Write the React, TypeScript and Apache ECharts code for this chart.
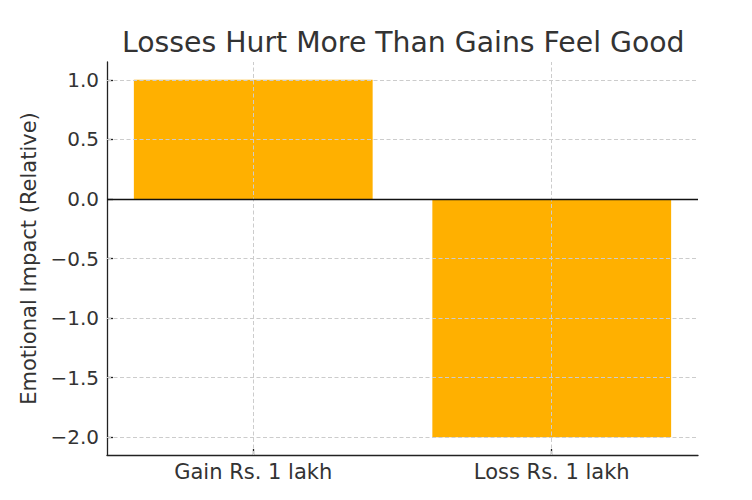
import React, { useEffect, useRef } from "react";
import * as echarts from "echarts";

const titleText = "Losses Hurt More Than Gains Feel Good";
const yAxisTitle = "Emotional Impact (Relative)";
const categories = ["Gain Rs. 1 lakh", "Loss Rs. 1 lakh"];
const impactValues = [1, -2];
const yTicks = [-2.0, -1.5, -1.0, -0.5, 0.0, 0.5, 1.0];
const xTicks = [0, 1];

const W = 752;
const H = 500;
const GRID = { left: 107, right: 54, top: 62, bottom: 45 };
const X_MIN = -0.49;
const X_MAX = 1.49;
const Y_MIN = -2.15;
const Y_MAX = 1.15;
const FONT = "DejaVu Sans";
const TEXT = "#333333";
const GRID_COLOR = "#cccccc";

const fmtY = (v: number) => (v < 0 ? "\u2212" : "") + Math.abs(v).toFixed(1);

export default function App() {
  const ref = useRef<HTMLDivElement>(null);
  useEffect(() => {
    if (!ref.current) return;
    const chart = echarts.init(ref.current, undefined, { renderer: "svg" });
    const plotW = W - GRID.left - GRID.right;
    const barW = (plotW / (X_MAX - X_MIN)) * 0.8;
    const gridLineStyle = { color: GRID_COLOR, type: [4, 2.5] as any, width: 1 };
    const spine = { color: "#222", width: 1.3 };
    chart.setOption({
      animation: false,
      backgroundColor: "#ffffff",
      textStyle: { fontFamily: FONT },
      title: {
        text: titleText,
        left: 117,
        top: 23,
        textStyle: { fontFamily: FONT, fontSize: 28.3, fontWeight: "normal", color: TEXT },
      },
      grid: { ...GRID, containLabel: false },
      xAxis: {
        type: "value",
        min: X_MIN,
        max: X_MAX,
        axisLine: { show: true, onZero: false, lineStyle: spine },
        axisTick: {
          show: true,
          inside: true,
          length: 6,
          customValues: xTicks,
          lineStyle: spine,
        },
        axisLabel: {
          customValues: xTicks,
          formatter: (v: number) => categories[Math.round(v)] ?? "",
          fontFamily: FONT,
          fontSize: 21,
          color: TEXT,
          margin: 6,
        },
        splitLine: { show: false },
      },
      yAxis: {
        type: "value",
        min: Y_MIN,
        max: Y_MAX,
        name: yAxisTitle,
        nameLocation: "middle",
        nameGap: 66,
        nameTextStyle: { fontFamily: FONT, fontSize: 21, color: TEXT },
        axisLine: { show: true, onZero: false, lineStyle: spine },
        axisTick: {
          show: true,
          inside: true,
          length: 6,
          customValues: yTicks,
          lineStyle: spine,
        },
        axisLabel: {
          customValues: yTicks,
          formatter: (v: number) => fmtY(v),
          fontFamily: FONT,
          fontSize: 20,
          color: TEXT,
          margin: 8,
        },
        splitLine: { show: false },
      },
      series: [
        {
          type: "bar",
          data: categories.map((_, i) => [xTicks[i], impactValues[i]]),
          barWidth: barW,
          itemStyle: { color: "#FFB000" },
          silent: true,
          markLine: {
            silent: true,
            symbol: ["none", "none"],
            label: { show: false },
            emphasis: { disabled: true },
            data: [
              ...yTicks.map((v) => ({ yAxis: v, lineStyle: gridLineStyle })),
              ...xTicks.map((v) => ({ xAxis: v, lineStyle: gridLineStyle })),
              { yAxis: 0, lineStyle: { color: "#111", type: "solid", width: 1.3 } },
            ],
          },
        },
      ],
    });
    return () => chart.dispose();
  }, []);
  return (
    <div
      ref={ref}
      style={{ position: "fixed", left: 0, top: 0, width: W, height: H }}
    />
  );
}
